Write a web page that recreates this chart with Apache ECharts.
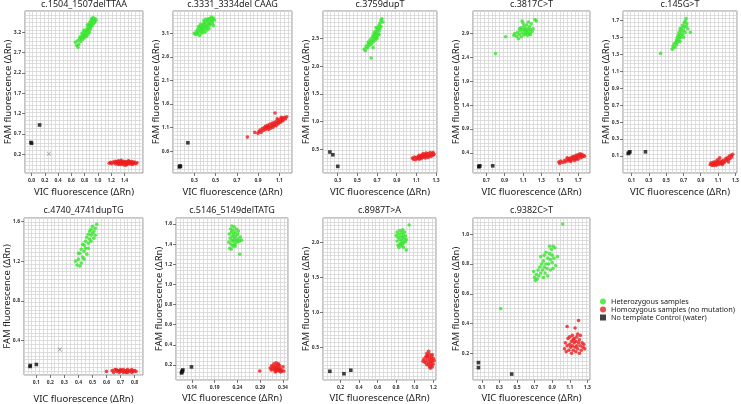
<!DOCTYPE html>
<html><head><meta charset="utf-8">
<script src="https://cdn.jsdelivr.net/npm/echarts@6/dist/echarts.min.js"></script>
<style>html,body{margin:0;padding:0;background:#fff}#c{width:741px;height:404px}</style>
</head><body><div id="c"></div>
<script>
// ---------------- DATA ----------------
const titles = ['c.1504_1507delTTAA','c.3331_3334del CAAG','c.3759dupT','c.3817C>T','c.145G>T',
                'c.4740_4741dupTG','c.5146_5149delTATG','c.8987T>A','c.9382C>T'];
const seriesNames = ['Heterozygous samples','Homozygous samples (no mutation)','No template Control (water)'];

// Panel 1
const p1Het = [[0.66,2.95],[0.68,2.87],[0.70,2.83],[0.71,2.90],[0.69,2.99],[0.72,3.03],[0.74,2.97],[0.73,3.08],[0.75,3.05],[0.76,3.12],[0.77,3.02],[0.78,3.09],[0.79,3.15],[0.80,3.06],[0.80,3.21],[0.81,3.12],[0.82,3.18],[0.83,3.25],[0.83,3.10],[0.84,3.30],[0.85,3.22],[0.85,3.15],[0.86,3.35],[0.86,3.27],[0.87,3.20],[0.87,3.40],[0.88,3.32],[0.88,3.45],[0.89,3.37],[0.89,3.28],[0.90,3.50],[0.90,3.42],[0.91,3.35],[0.91,3.54],[0.92,3.47],[0.93,3.40],[0.93,3.55],[0.94,3.50],[0.95,3.44],[0.96,3.53],[0.97,3.49],[0.84,3.38],[0.79,3.25],[0.76,3.18]];
const p1Hom = [[1.17,-0.02],[1.19,0.00],[1.21,-0.03],[1.23,0.01],[1.25,-0.01],[1.26,0.03],[1.27,-0.04],[1.28,0.00],[1.29,0.02],[1.30,-0.02],[1.31,0.04],[1.32,0.01],[1.33,-0.03],[1.34,0.02],[1.35,-0.05],[1.35,0.05],[1.36,0.00],[1.37,-0.02],[1.38,0.03],[1.39,-0.06],[1.40,0.01],[1.41,-0.03],[1.42,0.02],[1.43,-0.01],[1.44,-0.05],[1.45,0.01],[1.46,-0.02],[1.47,0.03],[1.48,-0.04],[1.49,0.00],[1.50,-0.02],[1.51,0.02],[1.52,-0.05],[1.53,0.00],[1.54,-0.02],[1.55,0.01],[1.57,-0.03],[1.59,-0.01],[1.38,-0.01],[1.42,-0.07],[1.31,-0.05],[1.46,0.04]];
const p1Ntc = [[-0.01,0.49],[0.0,0.47],[0.12,0.92]];
const p1Cross = [[0.26,0.21]];
const p1XTicks = [0.0,0.2,0.4,0.6,0.8,1.0,1.2,1.4];
const p1YTicks = [0.2,0.7,1.2,1.7,2.2,2.7,3.2];

// Panel 2
const p2Het = [[0.30,3.10],[0.31,3.07],[0.32,3.13],[0.33,3.08],[0.33,3.17],[0.34,3.12],[0.35,3.20],[0.35,3.05],[0.36,3.15],[0.36,3.24],[0.37,3.10],[0.37,3.19],[0.38,3.27],[0.38,3.14],[0.38,3.22],[0.39,3.30],[0.39,3.18],[0.40,3.25],[0.40,3.12],[0.40,3.33],[0.41,3.21],[0.41,3.28],[0.42,3.36],[0.42,3.17],[0.42,3.24],[0.43,3.31],[0.43,3.38],[0.44,3.27],[0.44,3.20],[0.44,3.41],[0.45,3.34],[0.45,3.29],[0.46,3.39],[0.46,3.44],[0.47,3.36],[0.47,3.31],[0.48,3.42],[0.48,3.26],[0.49,3.38],[0.36,3.29],[0.39,3.37],[0.41,3.40],[0.34,3.24]];
const p2Hom = [[0.80,0.90],[0.87,1.00],[0.90,0.98],[0.91,1.02],[0.92,1.05],[0.93,1.00],[0.94,1.08],[0.95,1.04],[0.96,1.10],[0.97,1.06],[0.97,1.13],[0.98,1.09],[0.99,1.15],[1.00,1.11],[1.00,1.06],[1.01,1.17],[1.02,1.13],[1.02,1.09],[1.03,1.19],[1.04,1.15],[1.04,1.11],[1.05,1.21],[1.06,1.17],[1.06,1.41],[1.07,1.23],[1.07,1.14],[1.08,1.20],[1.09,1.26],[1.09,1.18],[1.10,1.23],[1.11,1.28],[1.11,1.21],[1.12,1.25],[1.13,1.30],[1.13,1.24],[1.14,1.27],[1.15,1.32],[1.16,1.29],[1.17,1.33],[1.12,1.32],[1.08,1.29],[0.99,1.12],[1.05,1.14]];
const p2Ntc = [[0.16,0.27],[0.165,0.29],[0.17,0.28],[0.24,0.78]];
const p2XTicks = [0.3,0.5,0.7,0.9,1.1];
const p2YTicks = [0.6,1.1,1.6,2.1,2.6,3.1];

// Panel 3
const p3Het = [[0.57,2.31],[0.58,2.28],[0.59,2.36],[0.60,2.33],[0.61,2.40],[0.61,2.44],[0.62,2.37],[0.63,2.43],[0.63,2.48],[0.64,2.15],[0.64,2.40],[0.65,2.46],[0.65,2.52],[0.66,2.44],[0.66,2.56],[0.67,2.50],[0.67,2.60],[0.68,2.47],[0.68,2.55],[0.68,2.63],[0.69,2.52],[0.69,2.58],[0.70,2.66],[0.70,2.50],[0.70,2.61],[0.71,2.70],[0.71,2.56],[0.72,2.64],[0.72,2.74],[0.73,2.68],[0.73,2.78],[0.74,2.72],[0.74,2.83],[0.75,2.86],[0.76,2.80],[0.72,2.58],[0.66,2.34],[0.69,2.70]];
const p3Hom = [[1.06,0.34],[1.07,0.32],[1.08,0.36],[1.09,0.31],[1.10,0.35],[1.11,0.33],[1.12,0.37],[1.13,0.32],[1.13,0.39],[1.14,0.35],[1.15,0.38],[1.15,0.33],[1.16,0.40],[1.17,0.36],[1.17,0.42],[1.18,0.38],[1.19,0.34],[1.19,0.41],[1.20,0.37],[1.20,0.43],[1.21,0.39],[1.22,0.35],[1.22,0.42],[1.23,0.38],[1.24,0.44],[1.24,0.40],[1.25,0.37],[1.26,0.42],[1.27,0.39],[1.27,0.44],[1.28,0.41],[1.12,0.34],[1.16,0.36]];
const p3Ntc = [[0.22,0.45],[0.25,0.40],[0.30,0.19]];
const p3XTicks = [0.3,0.5,0.7,0.9,1.1,1.3];
const p3YTicks = [0.5,1.0,1.5,2.0,2.5];

// Panel 4
const p4Het = [[1.00,2.86],[1.01,2.90],[1.03,2.84],[1.04,2.92],[1.05,2.79],[1.06,2.88],[1.07,2.96],[1.08,2.83],[1.08,3.02],[1.09,3.16],[1.09,2.91],[1.10,2.98],[1.11,2.87],[1.11,3.06],[1.12,2.94],[1.12,3.01],[1.13,2.89],[1.13,2.97],[1.14,3.08],[1.14,2.92],[1.15,3.00],[1.15,2.86],[1.16,3.14],[1.16,2.95],[1.17,3.04],[1.17,2.90],[1.18,2.98],[1.18,2.88],[1.19,3.10],[1.20,2.94],[1.21,3.00],[1.23,3.19],[1.245,3.16],[1.10,3.12],[1.06,3.00],[0.91,2.83],[0.80,2.48]];
const p4Hom = [[1.49,0.21],[1.50,0.18],[1.51,0.23],[1.53,0.20],[1.55,0.24],[1.56,0.21],[1.58,0.26],[1.59,0.23],[1.60,0.28],[1.61,0.25],[1.62,0.30],[1.63,0.26],[1.64,0.32],[1.65,0.28],[1.66,0.24],[1.66,0.33],[1.67,0.29],[1.68,0.35],[1.69,0.31],[1.70,0.27],[1.70,0.36],[1.71,0.33],[1.72,0.38],[1.73,0.30],[1.73,0.34],[1.74,0.37],[1.75,0.32],[1.76,0.35],[1.77,0.33],[1.62,0.22],[1.68,0.27],[1.58,0.30]];
const p4Ntc = [[0.62,0.12],[0.63,0.13],[0.62,0.11],[0.77,0.13]];
const p4XTicks = [0.7,0.9,1.1,1.3,1.5,1.7];
const p4YTicks = [0.4,0.9,1.4,1.9,2.4,2.9];

// Panel 5
const p5Het = [[0.57,1.36],[0.58,1.39],[0.59,1.42],[0.60,1.38],[0.61,1.44],[0.62,1.41],[0.62,1.47],[0.63,1.50],[0.63,1.44],[0.64,1.53],[0.64,1.46],[0.65,1.49],[0.65,1.56],[0.66,1.52],[0.66,1.45],[0.67,1.58],[0.67,1.50],[0.68,1.55],[0.68,1.61],[0.69,1.53],[0.69,1.64],[0.70,1.58],[0.70,1.50],[0.71,1.62],[0.71,1.67],[0.72,1.56],[0.72,1.69],[0.73,1.72],[0.73,1.63],[0.74,1.66],[0.75,1.60],[0.78,1.56],[0.66,1.60],[0.435,1.31]];
const p5Hom = [[1.01,0.00],[1.02,0.02],[1.03,-0.01],[1.04,0.01],[1.05,0.03],[1.06,0.00],[1.07,0.02],[1.08,0.04],[1.08,-0.01],[1.09,0.01],[1.10,0.03],[1.10,0.06],[1.11,0.00],[1.12,0.02],[1.12,0.08],[1.13,0.04],[1.14,0.01],[1.15,0.03],[1.16,0.05],[1.17,0.02],[1.18,0.04],[1.19,0.07],[1.20,0.05],[1.21,0.08],[1.22,0.06],[1.23,0.10],[1.24,0.07],[1.25,0.11],[1.26,0.09],[1.27,0.12],[1.15,0.00],[1.05,-0.01],[1.22,0.03]];
const p5Ntc = [[0.06,0.13],[0.07,0.14],[0.08,0.15],[0.26,0.15]];
const p5XTicks = [0.1,0.3,0.5,0.7,0.9,1.1,1.3];
const p5YTicks = [0.1,0.3,0.5,0.7,0.9,1.1,1.3,1.5,1.7];

// Panel 6
const p6Het = [[0.38,1.20],[0.39,1.16],[0.40,1.22],[0.41,1.15],[0.41,1.28],[0.42,1.18],[0.42,1.32],[0.43,1.24],[0.43,1.37],[0.44,1.30],[0.44,1.22],[0.45,1.40],[0.45,1.33],[0.46,1.27],[0.46,1.44],[0.47,1.38],[0.47,1.47],[0.48,1.42],[0.48,1.50],[0.49,1.46],[0.49,1.52],[0.50,1.48],[0.50,1.55],[0.51,1.50],[0.51,1.43],[0.52,1.53],[0.53,1.57],[0.47,1.33],[0.44,1.36],[0.49,1.40],[0.40,1.28],[0.52,1.46]];
const p6Hom = [[0.60,0.09],[0.64,0.10],[0.65,0.08],[0.66,0.11],[0.67,0.09],[0.68,0.10],[0.69,0.08],[0.70,0.11],[0.70,0.09],[0.71,0.10],[0.72,0.08],[0.72,0.11],[0.73,0.09],[0.74,0.10],[0.75,0.08],[0.75,0.11],[0.76,0.09],[0.77,0.10],[0.78,0.08],[0.78,0.11],[0.79,0.09],[0.80,0.10],[0.81,0.09],[0.67,0.11],[0.69,0.10],[0.74,0.08]];
const p6Ntc = [[0.055,0.14],[0.057,0.15],[0.10,0.16]];
const p6Cross = [[0.267,0.31]];
const p6XTicks = [0.1,0.2,0.3,0.4,0.5,0.6,0.7,0.8];
const p6YTicks = [0.4,0.8,1.2,1.6];

// Panel 7
const p7Het = [[0.221,1.42],[0.222,1.50],[0.223,1.36],[0.224,1.46],[0.225,1.55],[0.226,1.40],[0.227,1.52],[0.228,1.44],[0.228,1.58],[0.229,1.48],[0.230,1.38],[0.230,1.54],[0.231,1.43],[0.232,1.50],[0.233,1.46],[0.233,1.57],[0.234,1.40],[0.235,1.52],[0.236,1.44],[0.237,1.48],[0.238,1.55],[0.239,1.42],[0.240,1.50],[0.241,1.45],[0.242,1.53],[0.244,1.43],[0.246,1.47],[0.249,1.44],[0.245,1.30],[0.226,1.35],[0.235,1.38]];
const p7Hom = [[0.289,0.14],[0.312,0.17],[0.314,0.15],[0.315,0.19],[0.317,0.16],[0.318,0.18],[0.320,0.21],[0.321,0.15],[0.322,0.17],[0.323,0.19],[0.324,0.16],[0.325,0.22],[0.326,0.14],[0.327,0.18],[0.328,0.16],[0.329,0.20],[0.330,0.15],[0.331,0.17],[0.332,0.14],[0.333,0.19],[0.334,0.16],[0.335,0.13],[0.336,0.15],[0.338,0.14],[0.340,0.18],[0.342,0.14],[0.323,0.13],[0.330,0.21]];
const p7Ntc = [[0.117,0.12],[0.118,0.13],[0.119,0.14],[0.120,0.15],[0.139,0.18]];
const p7XTicks = [0.14,0.19,0.24,0.29,0.34];
const p7YTicks = [0.2,0.4,0.6,0.8,1.0,1.2,1.4,1.6];

// Panel 8
const p8Het = [[0.80,2.10],[0.81,2.02],[0.81,2.15],[0.82,1.96],[0.82,2.07],[0.83,2.12],[0.83,1.93],[0.84,2.04],[0.84,2.17],[0.85,1.99],[0.85,2.09],[0.86,2.14],[0.86,1.95],[0.86,2.03],[0.87,2.07],[0.87,2.18],[0.88,2.00],[0.88,2.11],[0.88,1.93],[0.89,2.05],[0.89,2.15],[0.90,2.01],[0.90,2.09],[0.91,1.89],[0.91,2.04],[0.84,1.97],[0.87,1.98],[0.94,2.25]];
const p8Hom = [[1.10,0.33],[1.11,0.28],[1.12,0.36],[1.12,0.30],[1.13,0.41],[1.13,0.25],[1.14,0.33],[1.14,0.38],[1.15,0.29],[1.15,0.44],[1.16,0.35],[1.16,0.22],[1.16,0.40],[1.17,0.31],[1.17,0.27],[1.18,0.37],[1.18,0.24],[1.18,0.33],[1.19,0.29],[1.19,0.39],[1.20,0.34],[1.20,0.26],[1.21,0.31],[1.17,0.20],[1.15,0.25],[1.13,0.37],[1.19,0.22],[1.09,0.30]];
const p8Ntc = [[0.084,0.155],[0.236,0.12],[0.31,0.17]];
const p8XTicks = [0.2,0.4,0.6,0.8,1.0,1.2];
const p8YTicks = [0.5,1.0,1.5,2.0];

// Panel 9
const p9Het = [[0.69,0.75],[0.70,0.71],[0.71,0.69],[0.72,0.73],[0.73,0.70],[0.74,0.76],[0.75,0.72],[0.76,0.78],[0.77,0.85],[0.77,0.74],[0.78,0.80],[0.79,0.76],[0.80,0.82],[0.81,0.78],[0.81,0.86],[0.82,0.74],[0.83,0.80],[0.83,0.88],[0.84,0.77],[0.85,0.84],[0.85,0.72],[0.86,0.80],[0.87,0.92],[0.87,0.87],[0.88,0.76],[0.88,0.83],[0.89,0.90],[0.90,0.81],[0.90,0.86],[0.91,0.92],[0.91,0.77],[0.92,0.84],[0.93,0.91],[0.94,0.79],[0.96,0.85],[0.80,0.71],[1.02,1.07],[0.315,0.50]];
const p9Hom = [[1.04,0.23],[1.05,0.27],[1.06,0.21],[1.07,0.38],[1.07,0.25],[1.08,0.30],[1.09,0.22],[1.10,0.26],[1.10,0.31],[1.11,0.24],[1.12,0.28],[1.12,0.20],[1.13,0.32],[1.13,0.25],[1.14,0.22],[1.15,0.27],[1.15,0.30],[1.16,0.37],[1.16,0.24],[1.17,0.21],[1.17,0.28],[1.18,0.25],[1.18,0.31],[1.19,0.23],[1.20,0.27],[1.20,0.42],[1.21,0.20],[1.21,0.29],[1.22,0.25],[1.22,0.32],[1.23,0.22],[1.24,0.27],[1.25,0.24],[1.26,0.26],[1.27,0.23],[1.19,0.33],[1.14,0.29]];
const p9Ntc = [[0.062,0.137],[0.062,0.103],[0.44,0.06]];
const p9XTicks = [0.1,0.3,0.5,0.7,0.9,1.1,1.3];
const p9YTicks = [0.2,0.4,0.6,0.8,1.0];

// axis ranges [min,max]
const xRanges = [[-0.1,1.68],[0.10,1.22],[0.15,1.31],[0.555,1.83],[0.0,1.32],[0.012,0.86],[0.105,0.351],[0.01,1.23],[0.0,1.33]];
const yRanges = [[-0.26,3.72],[0.14,3.57],[0.07,3.0],[-0.02,3.37],[-0.1,1.81],[0.054,1.634],[0.05,1.66],[0.03,2.35],[0.02,1.11]];

// ---------------- LAYOUT / STYLE ----------------
const boxes = [[25,11,118,162],[173,11,119,162],[323,11,114,162],[473,11,117,162],[623,11,114,162],
               [24,218,119,157],[176,218,112,162],[323,218,113,162],[473,218,117,162]];
const xNameGaps = [14,14,14,14,14,19,13,13,13];
const xDec = [1,1,1,1,1,1,2,1,1];
const FONT = 'Noto Sans';
const GREEN = '#35e62a', RED = '#ee1d1d', BLACK = '#111111';

const panels = [
  {het:p1Het,hom:p1Hom,ntc:p1Ntc,cross:p1Cross,xt:p1XTicks,yt:p1YTicks},
  {het:p2Het,hom:p2Hom,ntc:p2Ntc,xt:p2XTicks,yt:p2YTicks},
  {het:p3Het,hom:p3Hom,ntc:p3Ntc,xt:p3XTicks,yt:p3YTicks},
  {het:p4Het,hom:p4Hom,ntc:p4Ntc,xt:p4XTicks,yt:p4YTicks},
  {het:p5Het,hom:p5Hom,ntc:p5Ntc,xt:p5XTicks,yt:p5YTicks},
  {het:p6Het,hom:p6Hom,ntc:p6Ntc,cross:p6Cross,xt:p6XTicks,yt:p6YTicks},
  {het:p7Het,hom:p7Hom,ntc:p7Ntc,xt:p7XTicks,yt:p7YTicks},
  {het:p8Het,hom:p8Hom,ntc:p8Ntc,xt:p8XTicks,yt:p8YTicks},
  {het:p9Het,hom:p9Hom,ntc:p9Ntc,xt:p9XTicks,yt:p9YTicks}
];

const grids = [], xAxes = [], yAxes = [], series = [], titleOpts = [];
const nameStyle = {fontSize:9.5, color:'#1a1a1a', fontFamily:FONT};
const labelStyle = {fontSize:5, color:'#333', fontFamily:FONT, fontWeight:'bold'};
const CROSS = 'path://M0,1 L1,0 L5,4 L9,0 L10,1 L6,5 L10,9 L9,10 L5,6 L1,10 L0,9 L4,5 Z';

panels.forEach((p,i)=>{
  const b = boxes[i];
  grids.push({left:b[0], top:b[1], width:b[2], height:b[3], show:true, borderColor:'#8f8f8f', borderWidth:1,
              backgroundColor:'#ffffff', containLabel:false, outerBoundsMode:'none'});
  // real value axes (data + labels)
  xAxes.push({gridIndex:i, type:'value', min:xRanges[i][0], max:xRanges[i][1], position:'bottom',
    axisLine:{show:false, onZero:false}, splitLine:{show:false},
    axisTick:{show:true, customValues:p.xt, length:3, lineStyle:{color:'#555', width:0.8}},
    axisLabel:{show:true, customValues:p.xt, margin:5, ...labelStyle, formatter:v=>Number(v).toFixed(xDec[i])},
    name:'VIC fluorescence (ΔRn)', nameLocation:'middle', nameGap:xNameGaps[i], nameTextStyle:nameStyle, nameMoveOverlap:false, z:5});
  yAxes.push({gridIndex:i, type:'value', min:yRanges[i][0], max:yRanges[i][1], position:'left',
    axisLine:{show:false, onZero:false}, splitLine:{show:false},
    axisTick:{show:true, customValues:p.yt, length:3, lineStyle:{color:'#555', width:0.8}},
    axisLabel:{show:true, customValues:p.yt, margin:4, ...labelStyle, formatter:v=>Number(v).toFixed(1)},
    name:'FAM fluorescence (ΔRn)', nameLocation:'middle', nameGap:12, nameTextStyle:nameStyle, nameMoveOverlap:false, z:5});
  // decorative grid-line axes
  const nx = Math.round(b[2]/3.8), ny = Math.round(b[3]/3.8);
  xAxes.push({gridIndex:i, type:'value', min:0, max:nx, interval:1, position:'bottom',
    axisLine:{show:false, onZero:false}, axisTick:{show:false}, axisLabel:{show:false},
    splitLine:{show:true, lineStyle:{color:'#d6d6d6', width:0.8}}});
  yAxes.push({gridIndex:i, type:'value', min:0, max:ny, interval:1, position:'left',
    axisLine:{show:false, onZero:false}, axisTick:{show:false}, axisLabel:{show:false},
    splitLine:{show:true, lineStyle:{color:'#d6d6d6', width:0.8}}});
  const xi = 2*i, yi = 2*i;
  series.push({type:'scatter', name:seriesNames[0], xAxisIndex:xi, yAxisIndex:yi, data:p.het,
    symbol:'circle', symbolSize:3.6, itemStyle:{color:GREEN}, z:3});
  series.push({type:'scatter', name:seriesNames[1], xAxisIndex:xi, yAxisIndex:yi, data:p.hom,
    symbol:'circle', symbolSize:3.6, itemStyle:{color:RED}, z:3});
  series.push({type:'scatter', name:seriesNames[2], xAxisIndex:xi, yAxisIndex:yi, data:p.ntc,
    symbol:'rect', symbolSize:3.6, itemStyle:{color:BLACK}, z:3});
  if (p.cross) series.push({type:'scatter', name:'cross', xAxisIndex:xi, yAxisIndex:yi, data:p.cross,
    symbol:CROSS, symbolSize:4.5, itemStyle:{color:'#777'}, z:3});
  titleOpts.push({text:titles[i], left:b[0]+b[2]/2, top:(i<5?0:206), textAlign:'center', padding:0,
    textStyle:{fontSize:9, fontWeight:'normal', color:'#222', fontFamily:FONT}});
});

const chart = echarts.init(document.getElementById('c'), null, {renderer:'canvas'});
chart.setOption({
  animation:false,
  backgroundColor:'#ffffff',
  textStyle:{fontFamily:FONT},
  title:titleOpts,
  grid:grids,
  xAxis:xAxes,
  yAxis:yAxes,
  legend:{orient:'vertical', left:600, top:298, itemWidth:6, itemHeight:6, itemGap:1, padding:0,
    data:[{name:seriesNames[0], icon:'circle'},{name:seriesNames[1], icon:'circle'},{name:seriesNames[2], icon:'rect'}],
    textStyle:{fontSize:7.3, color:'#222', fontFamily:FONT}},
  series:series
});
</script></body></html>
